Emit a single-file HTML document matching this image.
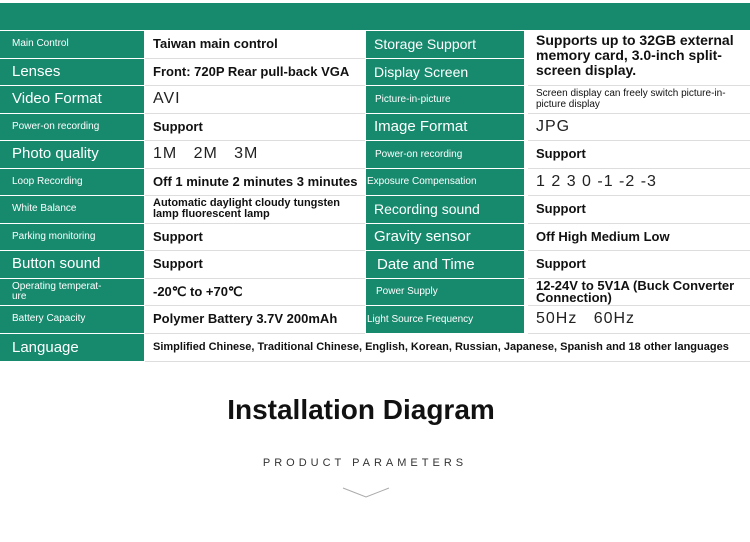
<!DOCTYPE html><html><head><style>
body{margin:0;width:750px;height:542px;background:#fff;position:relative;overflow:hidden;font-family:"Liberation Sans",sans-serif}
.g{position:absolute;background:#178a6e;color:#fff;box-sizing:border-box;padding-left:12px;display:flex;align-items:center;white-space:nowrap;overflow:hidden}
.w{position:absolute;background:#fff;color:#111;box-sizing:border-box;padding-left:8px;display:flex;align-items:center;font-weight:bold;font-size:13px;line-height:12px;border-bottom:1px solid #ddd}
.s{font-size:10px}.m{font-size:14px}.l{font-size:15px}.n{font-weight:normal;font-size:16px;letter-spacing:1px;color:#222}
</style></head><body>
<div style="position:absolute;left:0;top:3px;width:750px;height:27px;background:#178a6e"></div>
<div id="t"></div>
<script>
var L=[["Main Control","s","Taiwan main control","","Storage Support","m","Supports up to 32GB external memory card, 3.0-inch split-screen display.","big",8],
["Lenses","l","Front: 720P Rear pull-back VGA","","Display Screen","m","","",8],
["Video Format","l","AVI","n","Picture-in-picture","s","Screen display can freely switch picture-in-picture display","sm",9],
["Power-on recording","s","Support","","Image Format","l","JPG","n",8],
["Photo quality","l","1M &nbsp; 2M &nbsp; 3M","n","Power-on recording","s","Support","",9],
["Loop Recording","s","Off 1 minute 2 minutes 3 minutes","","Exposure Compensation","s","1 2 3 0 -1 -2 -3","n",1],
["White Balance","s","Automatic daylight cloudy tungsten lamp fluorescent lamp","sm2","Recording sound","m","Support","",8],
["Parking monitoring","s","Support","","Gravity sensor","l","Off High Medium Low","",8],
["Button sound","l","Support","","Date and Time","l","Support","",11],
["Operating temperat-<br>ure","s","-20℃ to +70℃","","Power Supply","s","12-24V to 5V1A (Buck Converter Connection)","",10],
["Battery Capacity","s","Polymer Battery 3.7V 200mAh","","Light Source Frequency","s","50Hz &nbsp; 60Hz","n",1]];
var h="";
for(var i=0;i<L.length;i++){var r=L[i],y=31+i*27.5;
h+='<div class="g '+r[1]+'" style="left:0;top:'+y+'px;width:144px;height:26.5px;line-height:10px">'+r[0]+'</div>';
h+='<div class="w" style="left:145px;top:'+y+'px;width:220px;height:27.5px;'+(r[3]=="sm2"?"font-size:11px;line-height:11px":"")+'"><span class="'+r[3]+'">'+r[2]+'</span></div>';
h+='<div class="g '+r[5]+'" style="left:366px;top:'+y+'px;width:158px;height:26.5px;padding-left:'+r[8]+'px">'+r[4]+'</div>';
if(r[7]=="big")h+='<div class="w" style="left:528px;top:31px;width:222px;height:55px;font-size:14px;line-height:15px;align-items:flex-start;padding-top:2px">'+r[6]+'</div>';
else if(i!=1)h+='<div class="w" style="left:528px;top:'+y+'px;width:222px;height:27.5px;'+(r[7]=="sm"?"font-size:10px;font-weight:normal;line-height:11px":"")+'"><span class="'+r[7]+'">'+r[6]+'</span></div>';}
var y=31+11*27.5;
h+='<div class="g l" style="left:0;top:'+y+'px;width:144px;height:27px">Language</div>';
h+='<div class="w" style="left:145px;top:'+y+'px;width:605px;height:28px;font-size:11px">Simplified Chinese, Traditional Chinese, English, Korean, Russian, Japanese, Spanish and 18 other languages</div>';
document.getElementById("t").innerHTML=h;
</script>
<div style="position:absolute;left:0;top:394px;width:722px;text-align:center;font-size:28px;font-weight:bold;color:#111">Installation Diagram</div>
<div style="position:absolute;left:0;top:457px;width:730px;text-align:center;font-size:11px;letter-spacing:4px;color:#333">PRODUCT PARAMETERS</div>
<svg style="position:absolute;left:340px;top:484px" width="52" height="16"><polyline points="3,4 26,13 49,4" fill="none" stroke="#aaa" stroke-width="1"/></svg>
</body></html>
